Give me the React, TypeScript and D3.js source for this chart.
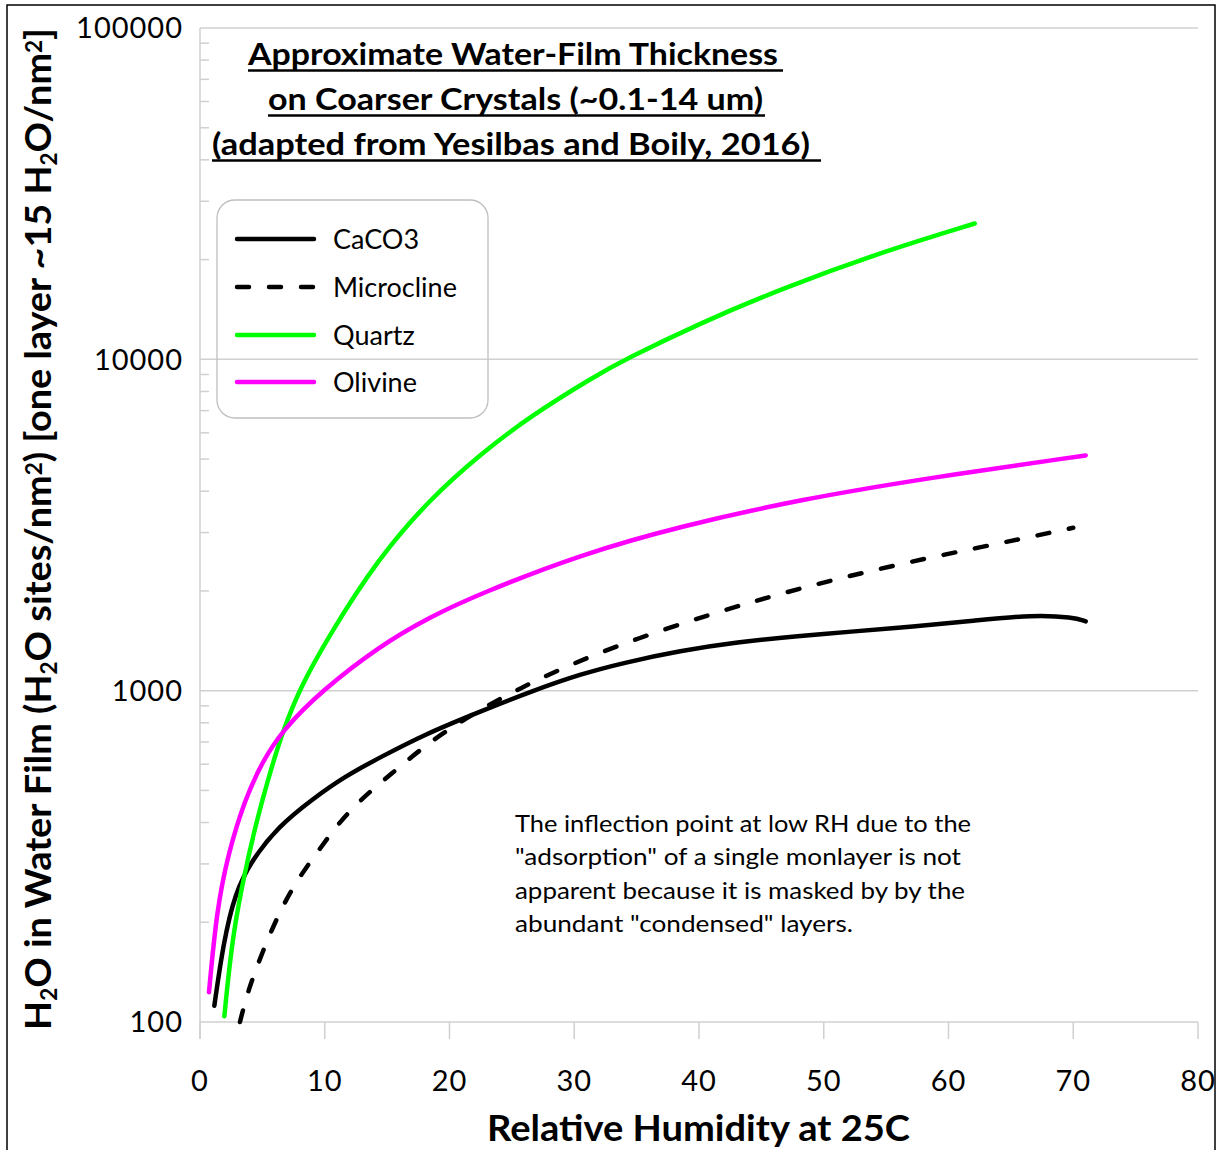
import React, { useEffect, useRef } from 'react';
import * as d3 from 'd3';

// values (RH in %, H2O sites/nm2)
const caco3RH = [1.15, 1.87, 2.8, 4.15, 6.28, 8.96, 11.6, 14.4, 18, 22.45, 26.7, 30.5, 34, 38.5, 43, 48.1, 52, 57.2, 62, 66.8, 70, 71];
const caco3Val = [112, 173, 245, 308, 389, 469, 551, 628, 738, 865, 1000, 1122, 1215, 1320, 1400, 1465, 1505, 1560, 1625, 1695, 1665, 1619];

const microRH = [3.2, 3.87, 4.95, 6.55, 8.15, 9.76, 11.1, 13.0, 15.1, 19.2, 25.7, 33.1, 41.2, 48.1, 56.4, 64.3, 70.0];
const microVal = [100, 125, 161, 223, 281, 339, 398, 474, 551, 745, 1031, 1361, 1717, 2042, 2431, 2793, 3101];

const quartzRH = [1.95, 2.54, 3.34, 4.41, 5.75, 6.6, 7.9, 10.3, 14.3, 18.4, 22.45, 26.5, 31.5, 34.1, 40, 46.5, 54.5, 62.1];
const quartzVal = [104, 173, 256, 389, 590, 745, 1000, 1459, 2510, 3776, 5164, 6745, 8830, 10000, 12820, 16270, 21000, 25700];

const olivineRH = [0.72, 1.34, 2.27, 3.6, 4.95, 6.6, 9.76, 14.4, 18.4, 22.45, 30.5, 38.5, 48.1, 58.5, 71];
const olivineVal = [123, 218, 324, 469, 606, 759, 1000, 1365, 1667, 1963, 2576, 3135, 3776, 4393, 5129];

const seriesNames = ['CaCO3', 'Microcline', 'Quartz', 'Olivine'];
const seriesColors = ['#000000', '#000000', '#00ff00', '#ff00ff'];

const xTicks = [0, 10, 20, 30, 40, 50, 60, 70, 80];
const yTicks = [100, 1000, 10000, 100000];

const titleLines = [
  'Approximate Water-Film Thickness',
  'on Coarser Crystals (~0.1-14 um)',
  '(adapted from Yesilbas and Boily, 2016)',
];

const noteLines = [
  'The inflection point at low RH due to the',
  '"adsorption" of a single monlayer is not',
  'apparent because it is masked by by the',
  'abundant "condensed" layers.',
];

const FONT = 'Lato, "Open Sans", sans-serif';

export default function App() {
  const ref = useRef<SVGSVGElement | null>(null);

  useEffect(() => {
    const svg = d3.select(ref.current);
    svg.selectAll('*').remove();

    const left = 200, right = 1198, top = 28, bottom = 1022;
    const x = d3.scaleLinear().domain([0, 80]).range([left, right]);
    const y = d3.scaleLog().domain([100, 100000]).range([bottom, top]);
    const grid = '#d0d0d0';

    // outer frame
    svg.append('rect')
      .attr('x', 7).attr('y', 5).attr('width', 1208).attr('height', 1160)
      .attr('fill', 'white').attr('stroke', '#000').attr('stroke-width', 1.5);

    // horizontal gridlines
    svg.append('g').selectAll('line').data(yTicks.slice(1)).join('line')
      .attr('x1', left).attr('x2', right)
      .attr('y1', (d) => y(d)).attr('y2', (d) => y(d))
      .attr('stroke', grid).attr('stroke-width', 1.5);

    // y axis + minor ticks
    svg.append('line').attr('x1', left).attr('x2', left).attr('y1', top).attr('y2', bottom + 17)
      .attr('stroke', grid).attr('stroke-width', 1.5);
    const minors: number[] = [];
    [100, 1000, 10000].forEach((d) => { for (let k = 2; k <= 9; k++) minors.push(d * k); });
    svg.append('g').selectAll('line').data(minors).join('line')
      .attr('x1', left).attr('x2', left + 9)
      .attr('y1', (d) => y(d)).attr('y2', (d) => y(d))
      .attr('stroke', grid).attr('stroke-width', 1.5);

    // x axis
    svg.append('line').attr('x1', left).attr('x2', right).attr('y1', bottom).attr('y2', bottom)
      .attr('stroke', grid).attr('stroke-width', 1.5);
    svg.append('g').selectAll('line').data(xTicks).join('line')
      .attr('x1', (d) => x(d)).attr('x2', (d) => x(d))
      .attr('y1', bottom).attr('y2', bottom + 17)
      .attr('stroke', grid).attr('stroke-width', 1.5);

    // tick labels
    svg.append('g').selectAll('text').data(xTicks).join('text')
      .attr('x', (d) => x(d)).attr('y', 1091)
      .attr('text-anchor', 'middle')
      .style('font-family', FONT).style('font-size', '29px').style('letter-spacing', '1px')
      .text((d) => d);
    svg.append('g').selectAll('text').data(yTicks).join('text')
      .attr('x', 183).attr('y', (d) => y(d)).attr('dy', '0.36em')
      .attr('text-anchor', 'end')
      .style('font-family', FONT).style('font-size', '29px').style('letter-spacing', '1px')
      .text((d) => d);

    // series
    const rhs = [caco3RH, microRH, quartzRH, olivineRH];
    const vals = [caco3Val, microVal, quartzVal, olivineVal];
    const line = d3.line<[number, number]>()
      .x((d) => x(d[0]))
      .y((d) => y(d[1]))
      .curve(d3.curveBasis);

    seriesNames.forEach((name, i) => {
      const pts: [number, number][] = rhs[i].map((r, j) => [r, vals[i][j]]);
      svg.append('path')
        .attr('d', line(pts))
        .attr('fill', 'none')
        .attr('stroke', seriesColors[i])
        .attr('stroke-width', 4.5)
        .attr('stroke-linecap', 'round')
        .attr('stroke-dasharray', name === 'Microcline' ? '12 20' : null);
    });

    // legend
    svg.append('rect')
      .attr('x', 217).attr('y', 200).attr('width', 271).attr('height', 218)
      .attr('rx', 18).attr('fill', 'none').attr('stroke', '#bfbfbf').attr('stroke-width', 1.3);
    const legendY = [239, 287, 335, 382];
    seriesNames.forEach((name, i) => {
      svg.append('line')
        .attr('x1', 237).attr('x2', 314).attr('y1', legendY[i]).attr('y2', legendY[i])
        .attr('stroke', seriesColors[i]).attr('stroke-width', 4.5)
        .attr('stroke-linecap', 'round')
        .attr('stroke-dasharray', name === 'Microcline' ? '12 20' : null);
      svg.append('text')
        .attr('x', 333).attr('y', legendY[i]).attr('dy', '0.36em')
        .style('font-family', FONT).style('font-size', '27px')
        .text(name);
    });

    // title
    const tX = [248, 268, 212];
    const tLen = [530, 495, 598];
    const tBase = [65, 110, 155];
    const tUnder = [783, 765, 821];
    titleLines.forEach((t, i) => {
      svg.append('text')
        .attr('x', tX[i]).attr('y', tBase[i])
        .attr('textLength', tLen[i]).attr('lengthAdjust', 'spacingAndGlyphs')
        .style('font-family', FONT).style('font-size', '30px').style('font-weight', 'bold')
        .text(t);
      svg.append('line')
        .attr('x1', tX[i]).attr('x2', tUnder[i]).attr('y1', tBase[i] + 5.5).attr('y2', tBase[i] + 5.5)
        .attr('stroke', '#000').attr('stroke-width', 2.5);
    });

    // note
    const nLen = [456, 446, 450, 338];
    noteLines.forEach((t, i) => {
      svg.append('text')
        .attr('x', 515).attr('y', 832 + i * 33.3)
        .attr('textLength', nLen[i]).attr('lengthAdjust', 'spacingAndGlyphs')
        .style('font-family', FONT).style('font-size', '23px')
        .text(t);
    });

    // x axis title
    svg.append('text')
      .attr('x', 487).attr('y', 1141)
      .attr('textLength', 423).attr('lengthAdjust', 'spacingAndGlyphs')
      .style('font-family', FONT).style('font-size', '37px').style('font-weight', 'bold')
      .text('Relative Humidity at 25C');

    // y axis title with sub/superscripts
    const yt = svg.append('text')
      .attr('transform', 'translate(51,529) rotate(-90)')
      .attr('text-anchor', 'middle')
      .attr('textLength', 1002).attr('lengthAdjust', 'spacingAndGlyphs')
      .style('font-family', FONT).style('font-size', '37px').style('font-weight', 'bold');
    const parts: [string, string][] = [
      ['H', ''], ['2', 'sub'], ['O in Water Film (H', ''], ['2', 'sub'], ['O sites/nm', ''], ['2', 'sup'],
      [') [one layer ~15 H', ''], ['2', 'sub'], ['O/nm', ''], ['2', 'sup'], [']', ''],
    ];
    parts.forEach(([s, k]) => {
      const ts = yt.append('tspan').text(s);
      if (k === 'sub') ts.attr('baseline-shift', '-25%').style('font-size', '22px');
      if (k === 'sup') ts.attr('baseline-shift', '40%').style('font-size', '22px');
    });
  }, []);

  return (
    <svg ref={ref} width={1225} height={1150}
      style={{ position: 'absolute', left: 0, top: 0, background: 'white' }} />
  );
}
